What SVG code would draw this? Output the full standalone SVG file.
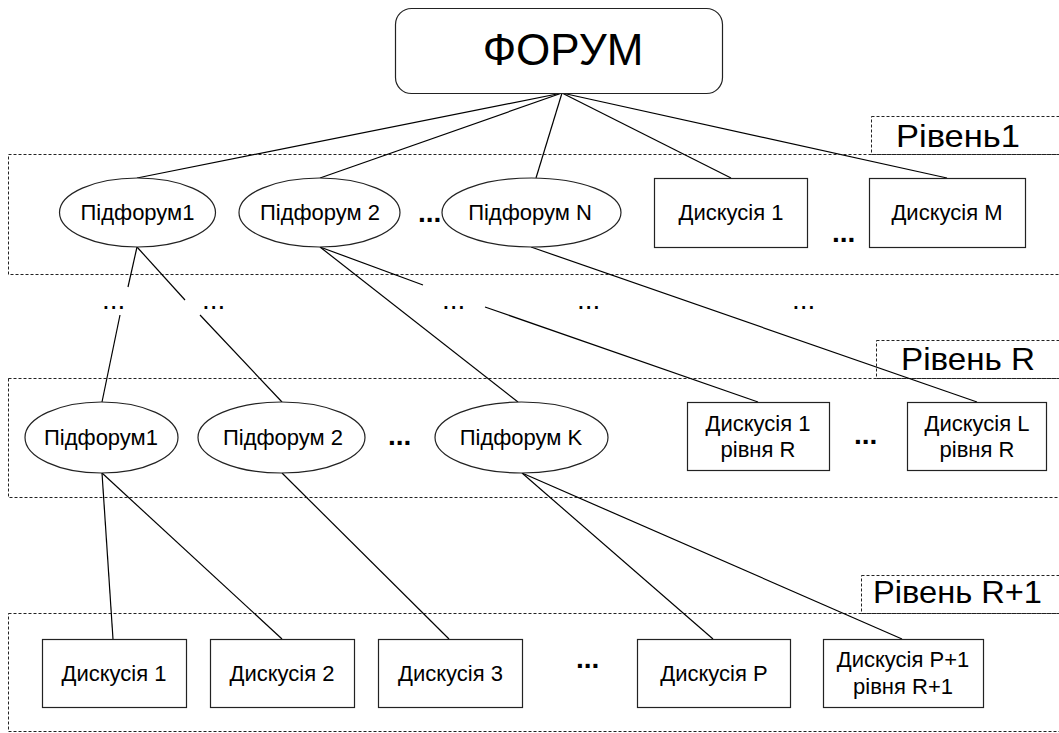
<svg xmlns="http://www.w3.org/2000/svg" width="1059" height="733" viewBox="0 0 1059 733">
<style>
  .lvl{fill:none;stroke:#222;stroke-width:1;stroke-dasharray:3 2}
  .node{fill:#fff;stroke:#222;stroke-width:1.2}
  .t{font-family:"Liberation Sans",Arial,sans-serif;font-size:22px;fill:#000;text-anchor:middle}
  .lab{font-family:"Liberation Sans",Arial,sans-serif;font-size:32px;fill:#000}
  .bd{font-family:"Liberation Sans",Arial,sans-serif;font-size:28px;font-weight:bold;fill:#000}
  .rd{font-family:"Liberation Sans",Arial,sans-serif;font-size:28px;fill:#000}
  .c{stroke:#000;stroke-width:1.2;fill:none}
</style>
<rect width="1059" height="733" fill="#fff"/>
<g id="levels">
  <rect class="lvl" x="8.5" y="154.5" width="1060" height="120"/>
  <rect class="lvl" x="871.5" y="116.5" width="200" height="38"/>
  <text class="lab" x="896" y="147" textLength="124" lengthAdjust="spacingAndGlyphs">Рівень1</text>
  <rect class="lvl" x="8.5" y="378.5" width="1060" height="119"/>
  <rect class="lvl" x="876.5" y="340.5" width="200" height="38"/>
  <text class="lab" x="901" y="370" textLength="134" lengthAdjust="spacingAndGlyphs">Рівень R</text>
  <rect class="lvl" x="8.5" y="613.5" width="1060" height="118"/>
  <rect class="lvl" x="861.5" y="575.5" width="200" height="38"/>
  <text class="lab" x="873" y="603" textLength="169" lengthAdjust="spacingAndGlyphs">Рівень R+1</text>
</g>
<g id="connectors">
  <line class="c" x1="562" y1="93" x2="137" y2="178"/>
  <line class="c" x1="562" y1="93" x2="320" y2="178"/>
  <line class="c" x1="562" y1="93" x2="536" y2="178"/>
  <line class="c" x1="562" y1="93" x2="731" y2="178"/>
  <line class="c" x1="562" y1="93" x2="947" y2="178"/>
  <line class="c" x1="137" y1="247" x2="128" y2="287"/>
  <line class="c" x1="120" y1="315" x2="102" y2="402"/>
  <line class="c" x1="137" y1="247" x2="185" y2="300"/>
  <line class="c" x1="200" y1="315" x2="282" y2="402"/>
  <line class="c" x1="320" y1="247" x2="518" y2="402"/>
  <line class="c" x1="320" y1="247" x2="423" y2="285"/>
  <line class="c" x1="485" y1="307" x2="758" y2="402"/>
  <line class="c" x1="531" y1="247" x2="977" y2="402"/>
  <line class="c" x1="102" y1="473" x2="113" y2="639"/>
  <line class="c" x1="102" y1="473" x2="282" y2="639"/>
  <line class="c" x1="282" y1="473" x2="449" y2="639"/>
  <line class="c" x1="522" y1="473" x2="713" y2="639"/>
  <line class="c" x1="522" y1="473" x2="902" y2="639"/>
</g>
<g id="forum">
  <rect class="node" x="395.5" y="8.5" width="327" height="85" rx="16"/>
  <text class="t" x="563" y="65" style="font-size:44px">ФОРУМ</text>
</g>
<g id="l1-sub1"><ellipse class="node" cx="137.5" cy="212.5" rx="78" ry="34.5"/><text class="t" x="137.5" y="220">Підфорум1</text></g>
<g id="l1-sub2"><ellipse class="node" cx="319.5" cy="212.5" rx="80.5" ry="34.5"/><text class="t" x="320" y="220">Підфорум 2</text></g>
<g id="l1-subN"><ellipse class="node" cx="531.5" cy="212.5" rx="89.5" ry="34.5"/><text class="t" x="530" y="220">Підфорум N</text></g>
<g id="l1-d1"><rect class="node" x="654.5" y="178.5" width="153" height="69"/><text class="t" x="731" y="220">Дискусія 1</text></g>
<g id="l1-dM"><rect class="node" x="869.5" y="178.5" width="156" height="69"/><text class="t" x="947" y="220">Дискусія M</text></g>
<g id="lR-sub1"><ellipse class="node" cx="101.5" cy="437.5" rx="76.5" ry="35.5"/><text class="t" x="101" y="445">Підфорум1</text></g>
<g id="lR-sub2"><ellipse class="node" cx="281.5" cy="437.5" rx="83.5" ry="35.5"/><text class="t" x="283" y="445">Підфорум 2</text></g>
<g id="lR-subK"><ellipse class="node" cx="521.5" cy="437.5" rx="86.5" ry="35.5"/><text class="t" x="521" y="445">Підфорум K</text></g>
<g id="lR-d1"><rect class="node" x="687.5" y="402.5" width="142" height="68"/><text class="t" x="758" y="431">Дискусія 1</text><text class="t" x="758" y="457">рівня R</text></g>
<g id="lR-dL"><rect class="node" x="907.5" y="402.5" width="139" height="68"/><text class="t" x="977" y="431">Дискусія L</text><text class="t" x="977" y="457">рівня R</text></g>
<g id="lR1-d1"><rect class="node" x="42.5" y="639.5" width="144" height="68"/><text class="t" x="114" y="681">Дискусія 1</text></g>
<g id="lR1-d2"><rect class="node" x="210.5" y="639.5" width="144" height="68"/><text class="t" x="282" y="681">Дискусія 2</text></g>
<g id="lR1-d3"><rect class="node" x="378.5" y="639.5" width="144" height="68"/><text class="t" x="450.5" y="681">Дискусія 3</text></g>
<g id="lR1-dP"><rect class="node" x="637.5" y="639.5" width="153" height="68"/><text class="t" x="714" y="681">Дискусія P</text></g>
<g id="lR1-dP1"><rect class="node" x="823.5" y="639.5" width="160" height="68"/><text class="t" x="903" y="667">Дискусія P+1</text><text class="t" x="903" y="694">рівня R+1</text></g>
<g id="ellipses">
  <text class="bd" x="418" y="222">...</text>
  <text class="bd" x="832" y="242">...</text>
  <text class="bd" x="388" y="445">...</text>
  <text class="bd" x="854" y="444">...</text>
  <text class="bd" x="576" y="668">...</text>
  <text class="rd" x="102" y="309">...</text>
  <text class="rd" x="202" y="309">...</text>
  <text class="rd" x="442" y="309">...</text>
  <text class="rd" x="577" y="309">...</text>
  <text class="rd" x="792" y="309">...</text>
</g>
</svg>
